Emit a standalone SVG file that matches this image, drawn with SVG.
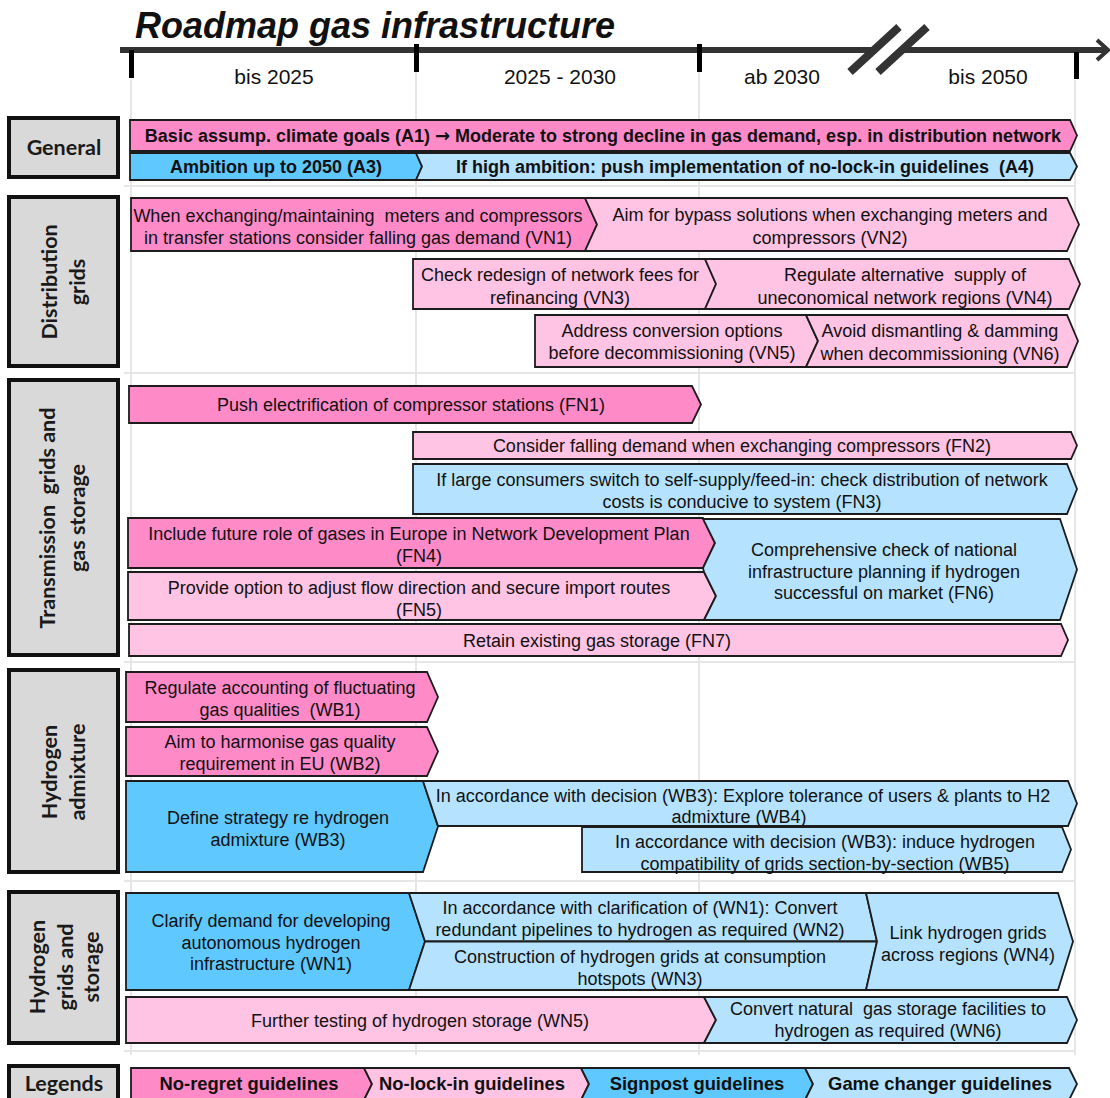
<svg xmlns="http://www.w3.org/2000/svg" width="1110" height="1098" viewBox="0 0 1110 1098">
  <style>
    .nr { fill: #FF8AC8; }
    .nl { fill: #FFC3E4; }
    .sp { fill: #5EC8FF; }
    .gc { fill: #B5E3FF; }
    .bar { stroke: #1c1c1c; stroke-width: 1.8; stroke-linejoin: miter; }
    .t { font-family: "Liberation Sans", Arial, sans-serif; font-size: 18px; fill: #111; text-anchor: middle; white-space: pre; }
    .b { font-weight: bold; }
    .lg { font-size: 18.4px; }
    .arr { font-family: "DejaVu Sans", sans-serif; }
    .lbox { fill: #D9D9D9; stroke: #111; stroke-width: 4; }
    .lab { font-family: Lato, "Open Sans", sans-serif; font-weight: bold; font-size: 21.5px; fill: #1a1a1a; text-anchor: middle; white-space: pre; }
    .grid { stroke: #E6E6E6; stroke-width: 2; fill: none; }
    .yr { font-family: "Liberation Sans", Arial, sans-serif; font-size: 21px; fill: #111; text-anchor: middle; }
  </style>

  <rect width="1110" height="1098" fill="#fff"/>

  <!-- background table -->
  <g id="grid" class="grid">
    <line x1="131" y1="80" x2="131" y2="1055"/>
    <line x1="416" y1="72" x2="416" y2="1055"/>
    <line x1="699" y1="72" x2="699" y2="1055"/>
    <line x1="1075" y1="80" x2="1075" y2="1055"/>
    <line x1="124" y1="186" x2="1076" y2="186"/>
    <line x1="124" y1="373" x2="1076" y2="373"/>
    <line x1="124" y1="662" x2="1076" y2="662"/>
    <line x1="124" y1="881" x2="1076" y2="881"/>
    <line x1="124" y1="1051" x2="1076" y2="1051"/>
  </g>

  <!-- title and time axis -->
  <text x="135" y="38" font-family="Liberation Sans, Arial, sans-serif" font-size="36" font-weight="bold" font-style="italic" fill="#111">Roadmap gas infrastructure</text>

  <g id="timeline">
    <line x1="120" y1="50" x2="1106" y2="50" stroke="#333" stroke-width="6"/>
    <polyline points="1097,40 1108,50 1097,60" fill="none" stroke="#333" stroke-width="4"/>
    <polygon points="850,72 899,27 927,27 878,72" fill="#fff"/>
    <line x1="850" y1="72" x2="899" y2="27" stroke="#333" stroke-width="8"/>
    <line x1="878" y1="72" x2="927" y2="27" stroke="#333" stroke-width="8"/>
    <rect x="129" y="50" width="5" height="28" fill="#000"/>
    <rect x="414" y="44" width="5" height="28" fill="#000"/>
    <rect x="697" y="44" width="5" height="28" fill="#000"/>
    <rect x="1074" y="52" width="5" height="27" fill="#000"/>
    <text class="yr" x="274" y="84">bis 2025</text>
    <text class="yr" x="560" y="84">2025 - 2030</text>
    <text class="yr" x="782" y="84">ab 2030</text>
    <text class="yr" x="988" y="84">bis 2050</text>
  </g>

  <!-- row labels -->
  <g id="label-general">
    <rect class="lbox" x="9" y="118" width="109" height="59"/>
    <text class="lab" x="64" y="155">General</text>
  </g>
  <g id="label-distribution">
    <rect class="lbox" x="9" y="197" width="109" height="169"/>
    <text class="lab" transform="translate(64,282) rotate(-90)"><tspan x="0" y="-7">Distribution</tspan><tspan x="0" y="21">grids</tspan></text>
  </g>
  <g id="label-transmission">
    <rect class="lbox" x="9" y="380" width="109" height="275"/>
    <text class="lab" transform="translate(64,518) rotate(-90)"><tspan x="0" y="-9">Transmission  grids and</tspan><tspan x="0" y="21">gas storage</tspan></text>
  </g>
  <g id="label-admixture">
    <rect class="lbox" x="9" y="670" width="109" height="202"/>
    <text class="lab" transform="translate(64,772) rotate(-90)"><tspan x="0" y="-7">Hydrogen</tspan><tspan x="0" y="21">admixture</tspan></text>
  </g>
  <g id="label-h2grids">
    <rect class="lbox" x="9" y="892" width="109" height="151"/>
    <text class="lab" transform="translate(64,967) rotate(-90)"><tspan x="0" y="-19">Hydrogen</tspan><tspan x="0" y="9">grids and</tspan><tspan x="0" y="35">storage</tspan></text>
  </g>
  <g id="label-legends">
    <rect class="lbox" x="9" y="1066" width="109" height="40"/>
    <text class="lab" x="64" y="1091">Legends</text>
  </g>

  <!-- General -->
  <g id="A1">
    <polygon class="bar nr" points="130,120 1070,120 1077,135.5 1070,151 130,151"/>
    <text class="t b" x="603" y="142">Basic assump. climate goals (A1) <tspan class="arr">→</tspan> Moderate to strong decline in gas demand, esp. in distribution network</text>
  </g>
  <g id="A3">
    <polygon class="bar sp" points="130,153 416,153 422,166.5 416,180 130,180"/>
    <text class="t b" x="276" y="173">Ambition up to 2050 (A3)</text>
  </g>
  <g id="A4">
    <polygon class="bar gc" points="416,153 1070,153 1077,166.5 1070,180 416,180 422,166.5"/>
    <text class="t b" x="745" y="173">If high ambition: push implementation of no-lock-in guidelines  (A4)</text>
  </g>

  <!-- Distribution grids -->
  <g id="VN1">
    <polygon class="bar nr" points="131,198 585,198 597,224.5 585,251 131,251"/>
    <text class="t"><tspan x="358" y="221.5">When exchanging/maintaining  meters and compressors</tspan><tspan x="358" y="243.5">in transfer stations consider falling gas demand (VN1)</tspan></text>
  </g>
  <g id="VN2">
    <polygon class="bar nl" points="585,198 1067,198 1079,224.5 1067,251 585,251 597,224.5"/>
    <text class="t"><tspan x="830" y="221">Aim for bypass solutions when exchanging meters and</tspan><tspan x="830" y="244">compressors (VN2)</tspan></text>
  </g>
  <g id="VN3">
    <polygon class="bar nl" points="413,259 705,259 716,284 705,309 413,309"/>
    <text class="t"><tspan x="560" y="280.5">Check redesign of network fees for</tspan><tspan x="560" y="303.5">refinancing (VN3)</tspan></text>
  </g>
  <g id="VN4">
    <polygon class="bar nl" points="705,259 1069,259 1080,284 1069,309 705,309 716,284"/>
    <text class="t"><tspan x="905" y="280.5">Regulate alternative  supply of</tspan><tspan x="905" y="303.5">uneconomical network regions (VN4)</tspan></text>
  </g>
  <g id="VN5">
    <polygon class="bar nl" points="535,315 806,315 818,341 806,367 535,367"/>
    <text class="t"><tspan x="672" y="336.5">Address conversion options</tspan><tspan x="672" y="358.5">before decommissioning (VN5)</tspan></text>
  </g>
  <g id="VN6">
    <polygon class="bar nl" points="806,315 1067,315 1078,341 1067,367 806,367 818,341"/>
    <text class="t"><tspan x="940" y="336.5">Avoid dismantling &amp; damming</tspan><tspan x="940" y="359.5">when decommissioning (VN6)</tspan></text>
  </g>

  <!-- Transmission grids and gas storage -->
  <g id="FN1">
    <polygon class="bar nr" points="129,386 692,386 701,404.5 692,423 129,423"/>
    <text class="t" x="411" y="411">Push electrification of compressor stations (FN1)</text>
  </g>
  <g id="FN2">
    <polygon class="bar nl" points="413,432 1071,432 1077,445.5 1071,459 413,459"/>
    <text class="t" x="742" y="452">Consider falling demand when exchanging compressors (FN2)</text>
  </g>
  <g id="FN3">
    <polygon class="bar gc" points="413,464 1067,464 1077,489 1067,514 413,514"/>
    <text class="t"><tspan x="742" y="485.5">If large consumers switch to self-supply/feed-in: check distribution of network</tspan><tspan x="742" y="508">costs is conducive to system (FN3)</tspan></text>
  </g>
  <g id="FN4">
    <polygon class="bar nr" points="128,518 703,518 715,543 703,568 128,568"/>
    <text class="t"><tspan x="419" y="539.5">Include future role of gases in Europe in Network Development Plan</tspan><tspan x="419" y="561.5">(FN4)</tspan></text>
  </g>
  <g id="FN5">
    <polygon class="bar nl" points="128,572 704,572 716,596 704,620 128,620"/>
    <text class="t"><tspan x="419" y="593.5">Provide option to adjust flow direction and secure import routes</tspan><tspan x="419" y="615.5">(FN5)</tspan></text>
  </g>
  <g id="FN6">
    <polygon class="bar gc" points="703,519 1060,519 1077,569.5 1060,620 704,620 716,596 704,572 703,568 715,543"/>
    <text class="t"><tspan x="884" y="555.5">Comprehensive check of national</tspan><tspan x="884" y="577.5">infrastructure planning if hydrogen</tspan><tspan x="884" y="598.5">successful on market (FN6)</tspan></text>
  </g>
  <g id="FN7">
    <polygon class="bar nl" points="129,624 1061,624 1068,640 1061,656 129,656"/>
    <text class="t" x="597" y="646.5">Retain existing gas storage (FN7)</text>
  </g>

  <!-- Hydrogen admixture -->
  <g id="WB1">
    <polygon class="bar nr" points="126,672 427,672 438,697 427,722 126,722"/>
    <text class="t"><tspan x="280" y="693.5">Regulate accounting of fluctuating</tspan><tspan x="280" y="715.5">gas qualities  (WB1)</tspan></text>
  </g>
  <g id="WB2">
    <polygon class="bar nr" points="126,727 427,727 438,751.5 427,776 126,776"/>
    <text class="t"><tspan x="280" y="747.5">Aim to harmonise gas quality</tspan><tspan x="280" y="769.5">requirement in EU (WB2)</tspan></text>
  </g>
  <g id="WB3">
    <polygon class="bar sp" points="126,781 423,781 438,826.5 423,872 126,872"/>
    <text class="t"><tspan x="278" y="823.5">Define strategy re hydrogen</tspan><tspan x="278" y="845.5">admixture (WB3)</tspan></text>
  </g>
  <g id="WB4">
    <polygon class="bar gc" points="423,781 1068,781 1077,803.5 1068,826 438,826"/>
    <text class="t"><tspan x="743" y="801.5">In accordance with decision (WB3): Explore tolerance of users &amp; plants to H2</tspan><tspan x="739" y="822.5">admixture (WB4)</tspan></text>
  </g>
  <g id="WB5">
    <polygon class="bar gc" points="582,827 1062,827 1071,849.5 1062,872 582,872"/>
    <text class="t"><tspan x="825" y="847.5">In accordance with decision (WB3): induce hydrogen</tspan><tspan x="825" y="869.5">compatibility of grids section-by-section (WB5)</tspan></text>
  </g>

  <!-- Hydrogen grids and storage -->
  <g id="WN1">
    <polygon class="bar sp" points="126,893 409,893 425,941.5 409,990 126,990"/>
    <text class="t"><tspan x="271" y="926.5">Clarify demand for developing</tspan><tspan x="271" y="948.5">autonomous hydrogen</tspan><tspan x="271" y="969.5">infrastructure (WN1)</tspan></text>
  </g>
  <g id="WN2">
    <polygon class="bar gc" points="409,893 866,893 877,941.5 425,941.5"/>
    <text class="t"><tspan x="640" y="913.5">In accordance with clarification of (WN1): Convert</tspan><tspan x="640" y="935.5">redundant pipelines to hydrogen as required (WN2)</tspan></text>
  </g>
  <g id="WN3">
    <polygon class="bar gc" points="425,941.5 877,941.5 866,990 409,990"/>
    <text class="t"><tspan x="640" y="962.5">Construction of hydrogen grids at consumption</tspan><tspan x="640" y="984.5">hotspots (WN3)</tspan></text>
  </g>
  <g id="WN4">
    <polygon class="bar gc" points="866,893 1058,893 1073,941.5 1058,990 866,990 877,941.5"/>
    <text class="t"><tspan x="968" y="938.5">Link hydrogen grids</tspan><tspan x="968" y="960.5">across regions (WN4)</tspan></text>
  </g>
  <g id="WN5">
    <polygon class="bar nl" points="126,997 704,997 716,1020 704,1043 126,1043"/>
    <text class="t" x="420" y="1026.5">Further testing of hydrogen storage (WN5)</text>
  </g>
  <g id="WN6">
    <polygon class="bar gc" points="704,997 1067,997 1077,1020 1067,1043 704,1043 716,1020"/>
    <text class="t"><tspan x="888" y="1014.5">Convert natural  gas storage facilities to</tspan><tspan x="888" y="1036.5">hydrogen as required (WN6)</tspan></text>
  </g>

  <!-- Legend -->
  <g id="legend-no-regret">
    <polygon class="bar nr" points="131,1068 364,1068 372,1084 364,1100 131,1100"/>
    <text class="t b lg" x="249" y="1090">No-regret guidelines</text>
  </g>
  <g id="legend-no-lock-in">
    <polygon class="bar nl" points="364,1068 581,1068 589,1084 581,1100 364,1100 372,1084"/>
    <text class="t b lg" x="472" y="1090">No-lock-in guidelines</text>
  </g>
  <g id="legend-signpost">
    <polygon class="bar sp" points="581,1068 805,1068 813,1084 805,1100 581,1100 589,1084"/>
    <text class="t b lg" x="697" y="1090">Signpost guidelines</text>
  </g>
  <g id="legend-game-changer">
    <polygon class="bar gc" points="805,1068 1069,1068 1077,1084 1069,1100 805,1100 813,1084"/>
    <text class="t b lg" x="940" y="1090">Game changer guidelines</text>
  </g>
</svg>
